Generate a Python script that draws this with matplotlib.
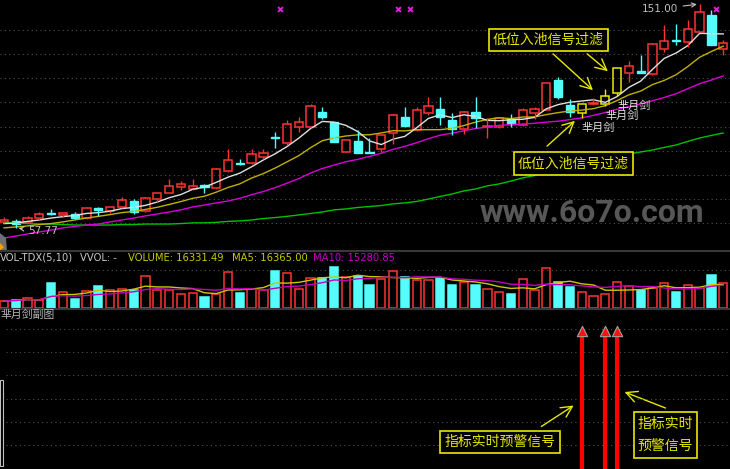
import numpy as np
import pandas as pd
import matplotlib
matplotlib.use('Agg')
import matplotlib.pyplot as plt
from matplotlib.patches import Rectangle, Polygon

plt.rcParams['font.family'] = ['DejaVu Sans', 'Noto Sans CJK SC']
CJK = ['Noto Sans CJK SC', 'DejaVu Sans']

# daily K-line
opens = [60.3, 60.7, 60.3, 61.9, 63.7, 63.2, 63.6, 61.9, 66.1, 64.9,
         66.5, 69.0, 64.9, 69.8, 72.3, 74.8, 74.0, 75.7, 74.4, 81.5,
         84.8, 84.8, 87.3, 95.6, 93.2, 99.8, 99.8, 106.0, 101.9, 89.4,
         94.0, 89.2, 90.7, 97.3, 104.0, 98.6, 105.6, 107.3, 102.7, 99.0,
         106.0, 100.0, 99.8, 103.1, 100.6, 105.6, 106.9, 119.4, 109.0, 105.6,
         109.4, 109.4, 114.0, 122.3, 123.1, 121.9, 132.3, 135.8, 135.2, 139.3,
         146.4, 132.3]
highs = [62.4, 61.5, 62.8, 64.4, 65.7, 64.1, 64.4, 66.3, 66.5, 66.6,
         70.7, 69.8, 70.5, 72.4, 78.2, 77.3, 78.2, 76.1, 82.7, 90.7,
         86.5, 90.7, 90.7, 97.7, 102.7, 104.0, 109.4, 108.1, 102.0, 94.5,
         98.6, 95.2, 96.6, 105.2, 108.1, 108.1, 112.3, 112.3, 105.6, 106.5,
         112.3, 103.5, 103.6, 105.2, 107.7, 108.1, 118.2, 120.6, 111.5, 109.5,
         111.9, 115.6, 124.5, 127.3, 129.8, 134.8, 142.3, 142.7, 144.3, 151.0,
         148.5, 136.0]
lows = [59.8, 57.77, 59.8, 61.1, 63.2, 62.4, 61.5, 61.5, 62.8, 64.0,
        66.1, 63.6, 64.4, 68.6, 72.2, 73.6, 73.6, 72.3, 74.0, 81.1,
        84.0, 84.4, 86.5, 91.1, 92.3, 97.7, 99.4, 103.1, 93.5, 89.3,
        88.9, 88.9, 89.4, 92.7, 100.1, 98.1, 104.8, 100.6, 96.5, 96.9,
        99.4, 95.2, 99.4, 99.8, 100.2, 103.1, 106.8, 111.5, 104.0, 103.5,
        109.0, 108.5, 112.7, 118.5, 122.2, 121.4, 131.0, 133.9, 133.1, 139.2,
        133.8, 129.8]
closes = [61.1, 59.4, 61.9, 63.6, 63.5, 64.0, 61.9, 66.1, 65.3, 66.5,
          69.4, 64.4, 70.3, 72.3, 75.3, 76.1, 75.3, 74.8, 82.3, 86.1,
          84.4, 88.6, 89.0, 95.2, 101.0, 101.9, 108.5, 104.0, 93.6, 94.4,
          89.0, 89.0, 96.5, 104.8, 100.2, 106.9, 108.5, 104.0, 99.0, 106.0,
          103.5, 100.2, 103.5, 101.0, 106.9, 107.3, 118.1, 112.3, 106.0, 109.4,
          109.8, 112.7, 124.4, 125.2, 122.3, 134.3, 135.6, 135.6, 140.6, 147.7,
          133.9, 134.8]
volumes = [4600, 5200, 6500, 5200, 16300, 10400, 5900, 11100, 14400, 11800,
           12400, 11800, 20900, 11800, 11800, 9100, 9800, 7200, 9100, 23500,
           9800, 12400, 11800, 24200, 22900, 12400, 19600, 19600, 26800, 20200,
           20900, 15000, 18900, 24200, 20200, 18300, 18300, 19600, 15000, 17000,
           15000, 12400, 10400, 9100, 18900, 11800, 26100, 17000, 13700, 10400,
           7800, 9100, 17000, 14400, 11800, 13100, 16300, 10400, 15000, 13100,
           21500, 16331]

# moving averages before enough bars are on screen (history not shown)
ma5_lead = [59.6, 59.8, 60.5, 61.1]
ma10_lead = [57.8, 58.2, 58.6, 59.2, 59.6, 60.3, 61.1, 61.9, 62.6]
ma20_lead = [53.6, 54.4, 55.3, 56.1, 56.9, 57.8, 58.4, 59.0, 59.4, 60.3,
             61.1, 61.9, 62.8, 63.6, 64.4, 65.3, 66.5, 67.3, 68.2]
ma60 = [59.9, 59.9, 59.6, 59.4, 59.4, 59.2, 59.0, 59.0, 59.0, 59.0,
        59.2, 59.2, 59.4, 59.4, 59.4, 59.6, 59.9, 59.9, 60.1, 60.5,
        60.7, 61.1, 61.7, 62.1, 62.6, 63.2, 63.8, 64.4, 65.3, 65.7,
        66.3, 66.7, 67.1, 67.8, 68.2, 68.8, 69.8, 70.9, 71.9, 73.2,
        74.0, 75.3, 76.1, 77.3, 78.6, 79.6, 80.9, 81.9, 83.2, 84.2,
        85.2, 86.5, 87.7, 88.6, 89.4, 90.2, 91.3, 92.3, 93.8, 95.2,
        96.3, 97.3]

signal_idx = [49, 51, 52]
cross_idx = [23, 33, 34, 60]
vol_last, vol_ma5_last, vol_ma10_last = 16331.49, 16365.00, 15280.85

n = len(closes)
x = np.arange(n)
cl = pd.Series(closes)
ma5 = cl.rolling(5).mean().values
ma5[:4] = ma5_lead
ma10 = cl.rolling(10).mean().values
ma10[:9] = ma10_lead
ma20 = cl.rolling(20).mean().values
ma20[:19] = ma20_lead
vs = pd.Series(volumes)
vma5 = vs.rolling(5, min_periods=1).mean()
vma10 = vs.rolling(10, min_periods=1).mean()

RED = '#ff3232'
CYAN = '#54fcfc'
YEL = '#e8e800'
W, H = 730, 469


def P(px, py):
    return (px / W, 1 - py / H)


fig = plt.figure(figsize=(7.3, 4.69), dpi=100, facecolor='black')
ax = fig.add_axes([0, 1 - 250 / H, 1, 250 / H])
axv = fig.add_axes([0, 1 - 309 / H, 1, 58 / H])
axs = fig.add_axes([0, 0, 1, 160 / H])
for a in (ax, axv, axs):
    a.set_facecolor('black')
    a.axis('off')
    a.set_xlim(-0.339, 61.578)

# ---- main panel
ax.set_ylim(48.6, 152.66)
for p in range(60, 150, 10):
    ax.axhline(p, color='#505050', lw=0.8, ls=(0, (1, 3)), zorder=0)

ax.plot(x, ma60, color='#00c000', lw=1)
ax.plot(x, ma20, color='#d800d8', lw=1)
ax.plot(x, ma10, color='#c0b000', lw=1)
ax.plot(x, ma5, color='#e0e0e0', lw=1)

for i in range(n):
    o, h, l, c = opens[i], highs[i], lows[i], closes[i]
    top, bot = max(o, c), min(o, c)
    hgt = max(top - bot, 0.3)
    if i in signal_idx or c >= o:
        col = YEL if i in signal_idx else RED
        ax.vlines(i, top, h, color=col, lw=1)
        ax.vlines(i, l, bot, color=col, lw=1)
        ax.add_patch(Rectangle((i - 0.35, bot), 0.7, hgt, fill=False, ec=col, lw=1.1))
    else:
        ax.vlines(i, l, h, color=CYAN, lw=1)
        ax.add_patch(Rectangle((i - 0.35, bot), 0.7, hgt, fc=CYAN, ec=CYAN, lw=1))

ax.scatter(np.array(cross_idx) + 0.4, [0.964] * len(cross_idx), marker='x', s=12,
           color='#e020e0', lw=1.4, transform=ax.get_xaxis_transform())

imin = int(np.argmin(lows))
imax = int(np.argmax(highs))
ax.annotate('%.2f' % lows[imin], xy=(imin, lows[imin]), xytext=(12, -3),
            textcoords='offset pixels', ha='left', va='center', color='#c0c0c0',
            fontsize=7.5, arrowprops=dict(arrowstyle='->', color='#c0c0c0', lw=0.8))
ax.annotate('%.2f' % highs[imax], xy=(imax, highs[imax]), xytext=(-22, -5),
            textcoords='offset pixels', ha='right', va='center', color='#c0c0c0',
            fontsize=7.5, arrowprops=dict(arrowstyle='->', color='#c0c0c0', lw=0.8))

for i in signal_idx:
    ax.text(i, lows[i] - 4.2, '芈月剑', ha='left', va='center', color='#e0e0e0',
            fontsize=8, family=CJK)

fig.text(*P(592, 213), 'www.6o7o.com', ha='center', va='center', color='#575757',
         fontsize=23, family='Roboto', weight='bold')

# ---- volume panel
axv.set_ylim(-650, 37200)
axv.axhline(25000, color='#505050', lw=0.8, ls=(0, (1, 3)), zorder=0)
up = [c >= o for o, c in zip(opens, closes)]
axv.bar(x, volumes, width=0.7, color=['none' if u else CYAN for u in up],
        edgecolor=[RED if u else CYAN for u in up], lw=1.1)
axv.plot(x, vma5, color='#c8c800', lw=1)
axv.plot(x, vma10, color='#c000c0', lw=1)

hy = 1 - 258 / H
fig.text(0, hy, 'VOL-TDX(5,10)', color='#c8c8c8', fontsize=7.2, va='center')
fig.text(80 / W, hy, 'VVOL: -', color='#c8c8c8', fontsize=7.2, va='center')
fig.text(128 / W, hy, 'VOLUME: %.2f' % vol_last, color='#c8c800', fontsize=7.2, va='center')
fig.text(232 / W, hy, 'MA5: %.2f' % vol_ma5_last, color='#c8c800', fontsize=7.2, va='center')
fig.text(313 / W, hy, 'MA10: %.2f' % vol_ma10_last, color='#c000c0', fontsize=7.2, va='center')

for py in (251, 309):
    fig.add_artist(plt.Line2D([0, 1], [1 - py / H] * 2, color='#383838', lw=1.5))

# ---- signal panel
axs.set_ylim(0, 1.2)
for py in (329, 352, 375, 399, 422, 445):
    axs.axhline((469 - py) / 160 * 1.2, xmin=0.008, color='#505050', lw=0.8,
                ls=(0, (1, 3)), zorder=0)
axs.vlines(signal_idx, 0, 1, color='#ff0000', lw=3)
axs.scatter(signal_idx, [1.035] * len(signal_idx), marker='^', s=55, color='#ff1010',
            edgecolors='#a0a0a0', lw=0.8, zorder=3)
fig.text(*P(0, 315), '芈月剑副图', color='#b8b8b8', fontsize=7.8, family=CJK,
         ha='left', va='center')

# ---- callouts
box = dict(boxstyle='square,pad=0.3', fc='black', ec=YEL, lw=1.2)
fig.text(*P(548.5, 40), '低位入池信号过滤', color=YEL, fontsize=10, family=CJK,
         ha='center', va='center', bbox=box)
fig.text(*P(573.5, 163.5), '低位入池信号过滤', color=YEL, fontsize=10, family=CJK,
         ha='center', va='center', bbox=box)
fig.text(*P(500, 442), '指标实时预警信号', color=YEL, fontsize=10, family=CJK,
         ha='center', va='center', bbox=box)
fig.text(*P(665.5, 435), '指标实时\n预警信号', color=YEL, fontsize=10, family=CJK,
         ha='center', va='center', linespacing=1.8, bbox=box)

arrows = [((551, 52), (595, 92)), ((585, 52), (610, 73)), ((545, 148), (577, 119)),
          ((539, 428), (576, 404)), ((668, 409), (622, 391))]
for (x0, y0), (x1, y1) in arrows:
    ax.annotate('', xy=P(x1, y1), xytext=P(x0, y0), xycoords='figure fraction',
                textcoords='figure fraction',
                arrowprops=dict(arrowstyle='->,head_length=0.8,head_width=0.4',
                                color=YEL, lw=1))

# left edge widgets
fig.add_artist(Polygon([P(0, 233), P(6, 238), P(7, 252), P(0, 252)], closed=True,
                       fc='#707070', ec='none', transform=fig.transFigure))
fig.add_artist(Polygon([P(0, 243), P(4, 247), P(0, 251)], closed=True,
                       fc='#f0a000', ec='none', transform=fig.transFigure))
fig.add_artist(Rectangle(P(0, 466), 2.5 / W, 86 / H, fc='none', ec='#c0c0c0', lw=0.8,
                         transform=fig.transFigure))

fig.savefig('out.png', dpi=100, facecolor='black')
